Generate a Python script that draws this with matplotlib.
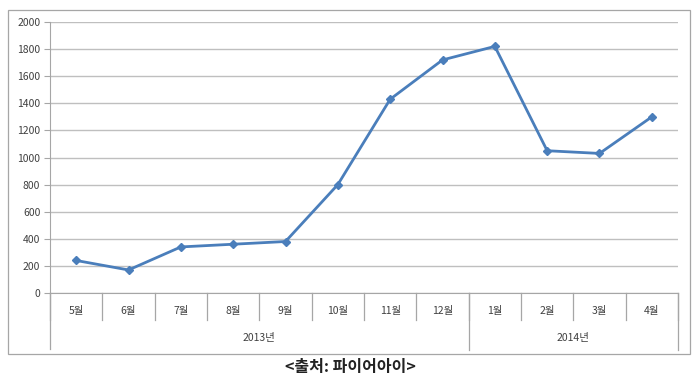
import matplotlib.pyplot as plt
from matplotlib.patches import Rectangle
import matplotlib.transforms as mtransforms

plt.rcParams['font.family'] = ['Noto Sans CJK KR', 'DejaVu Sans']

# data
months = ["5월", "6월", "7월", "8월", "9월", "10월", "11월", "12월",
          "1월", "2월", "3월", "4월"]
values = [240, 170, 340, 360, 380, 800, 1430, 1720, 1820, 1050, 1030, 1300]
years = ["2013년", "2014년"]
year_counts = [8, 4]

fig = plt.figure(figsize=(7, 3.8), dpi=100)
ax = fig.add_axes([50/700, 1 - 293/380, 628/700, 271/380])

# outer chart border
fig.patches.append(Rectangle((8/700, 1 - 354/380), 682/700, 344/380,
                             transform=fig.transFigure, fill=False,
                             edgecolor="#A6A6A6", linewidth=0.9))

x = list(range(len(months)))
ax.plot(x, values, color="#4A7EBB", linewidth=2.0, marker="D",
        markersize=4.5, zorder=3)

ax.set_xlim(-0.5, len(months) - 0.5)
ax.set_ylim(0, 2000)
ax.set_yticks(range(0, 2001, 200))
ax.yaxis.grid(True, color="#BFBFBF", linewidth=1.0)
ax.set_axisbelow(True)
for s in ["top", "right"]:
    ax.spines[s].set_visible(False)
ax.spines["left"].set_color("#A6A6A6")
ax.spines["bottom"].set_color("#A6A6A6")
ax.tick_params(axis="y", length=4, color="#A6A6A6", labelsize=7.5,
               labelcolor="#404040", pad=3)
ax.set_xticks([])

# two-level category axis
trans = mtransforms.blended_transform_factory(ax.transData, ax.transAxes)
lc = "#A6A6A6"
for i in range(len(months) + 1):
    xp = i - 0.5
    ax.plot([xp, xp], [0, -0.1], color=lc, linewidth=0.9,
            transform=trans, clip_on=False)
for i, m in enumerate(months):
    ax.text(i, -0.066, m, transform=trans, ha="center", va="center",
            fontsize=7.5, color="#404040")

start = 0
for yr, n in zip(years, year_counts):
    end = start + n
    ax.plot([end - 0.5, end - 0.5], [0, -0.21], color=lc, linewidth=0.9,
            transform=trans, clip_on=False)
    ax.text((start + end - 1) / 2, -0.166, yr, transform=trans,
            ha="center", va="center", fontsize=7.5, color="#404040")
    start = end
ax.plot([-0.5, -0.5], [0, -0.205], color=lc, linewidth=0.9,
        transform=trans, clip_on=False)

fig.text(0.5, 1 - 367/380, "<출처: 파이어아이>", ha="center", va="center",
         fontsize=11.5, fontweight="bold", color="#222222")

fig.savefig("out.png", dpi=100)
